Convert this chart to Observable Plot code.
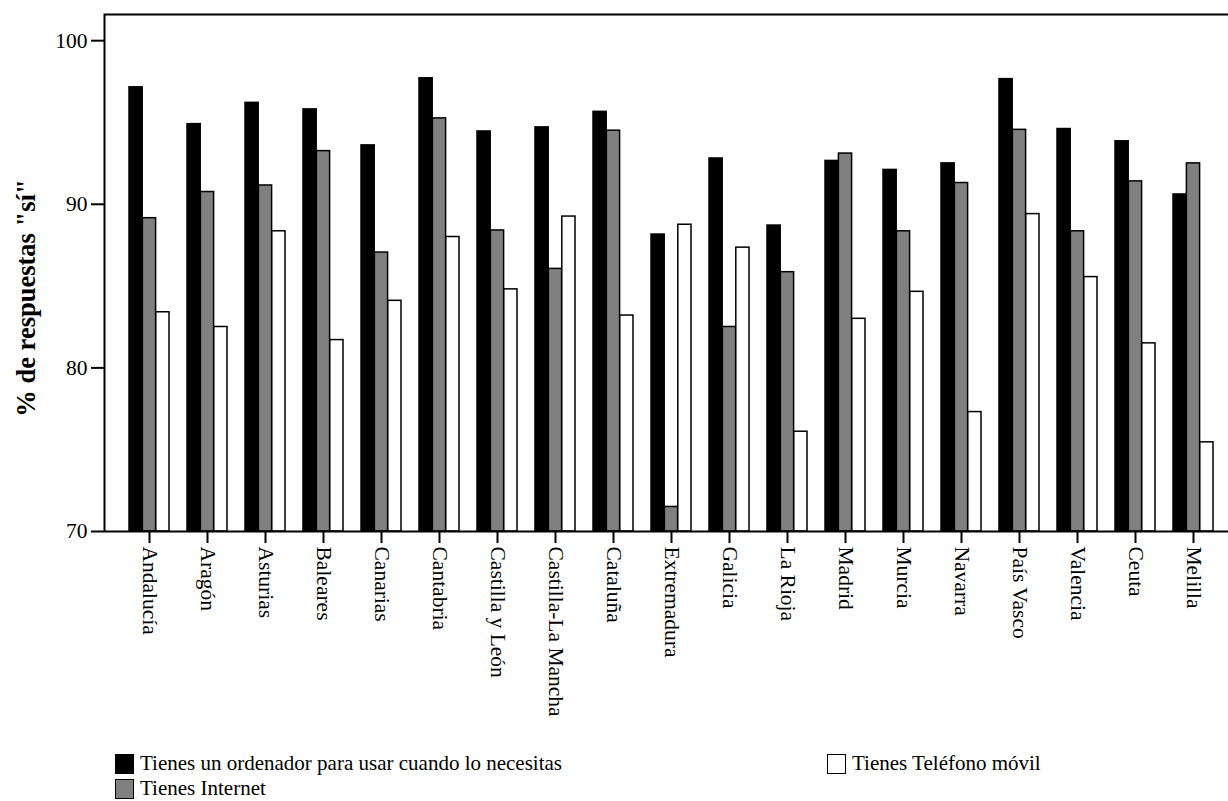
<!DOCTYPE html>
<html>
<head>
<meta charset="utf-8">
<script src="https://cdn.jsdelivr.net/npm/d3@7"></script>
<script src="https://cdn.jsdelivr.net/npm/@observablehq/plot@0.6"></script>
<style>
  html, body { margin: 0; padding: 0; background: #fff; overflow: hidden; }
  #chart svg { display: block; max-width: none !important; }
  #legend {
    display: grid;
    grid-template-rows: repeat(2, 25px);
    grid-auto-flow: column;
    grid-template-columns: 712px auto;
    padding-left: 115px;
    margin-top: 6px;
    font-family: 'Liberation Serif', 'Times New Roman', serif;
    font-size: 21px;
    line-height: 25px;
    color: #000;
  }
  .item { display: flex; align-items: center; white-space: nowrap; }
  .sw { width: 17px; height: 18px; border: 1.5px solid #000; margin-right: 6px; box-sizing: content-box; }
</style>
</head>
<body>
<div id="chart"></div>
<div id="legend"></div>
<script>
const regions = ["Andalucía","Aragón","Asturias","Baleares","Canarias","Cantabria","Castilla y León","Castilla-La Mancha","Cataluña","Extremadura","Galicia","La Rioja","Madrid","Murcia","Navarra","País Vasco","Valencia","Ceuta","Melilla"];
const seriesNames = ["Tienes un ordenador para usar cuando lo necesitas","Tienes Internet","Tienes Teléfono móvil"];
const seriesColors = ["#000000","#808080","#ffffff"];
const ordenador = [97.15, 94.9, 96.2, 95.8, 93.6, 97.7, 94.45, 94.7, 95.65, 88.15, 92.8, 88.7, 92.65, 92.1, 92.5, 97.65, 94.6, 93.85, 90.6];
const internet  = [89.15, 90.75, 91.15, 93.25, 87.05, 95.25, 88.4, 86.05, 94.5, 71.5, 82.5, 85.85, 93.1, 88.35, 91.3, 94.55, 88.35, 91.4, 92.5];
const movil     = [83.4, 82.5, 88.35, 81.7, 84.1, 88.0, 84.8, 89.25, 83.2, 88.75, 87.35, 76.1, 83.0, 84.65, 77.3, 89.4, 85.55, 81.5, 75.45];
const yTicks = [70, 80, 90, 100];
const yDomain = [70, 101.6];
const yLabel = "% de respuestas \"sí\"";

const seriesValues = [ordenador, internet, movil];
const barW = 13.4;

const marks = [];
seriesValues.forEach((vals, i) => {
  const rows = regions.map((r, j) => ({region: r, value: vals[j]}));
  marks.push(Plot.barY(rows, {
    x: "region",
    y1: yDomain[0],
    y2: "value",
    fill: seriesColors[i],
    stroke: "#000",
    strokeWidth: 1.5,
    insetLeft: 22.4,
    insetRight: 22.4,
    dx: (i - 1) * barW
  }));
});

const chart = Plot.plot({
  width: 1237,
  height: 745,
  marginLeft: 104,
  marginRight: 0,
  marginTop: 14,
  marginBottom: 214,
  style: {fontFamily: "'Liberation Serif', serif", fontSize: "21.5px", color: "#000", background: "#fff", maxWidth: "none"},
  x: {domain: regions, paddingInner: 0, paddingOuter: 0.233},
  y: {domain: yDomain},
  marks: [
    ...marks,
    Plot.frame({stroke: "#000", strokeWidth: 2}),
    Plot.axisY(yTicks, {tickSize: 13, tickPadding: 4, strokeWidth: 2, label: null, fontSize: 21.5}),
    Plot.axisX({tickSize: 12, tickPadding: 3, tickRotate: 90, strokeWidth: 2, label: null, fontSize: 21.5}),
    Plot.text([yLabel], {
      text: d => d,
      frameAnchor: "left",
      rotate: -90,
      dx: -70,
      dy: 25,
      textAnchor: "middle",
      lineAnchor: "bottom",
      fontWeight: "bold",
      fontSize: 26.5
    })
  ]
});
document.getElementById("chart").appendChild(chart);

const legend = document.getElementById("legend");
seriesNames.forEach((name, i) => {
  const it = document.createElement("div");
  it.className = "item";
  const sw = document.createElement("span");
  sw.className = "sw";
  sw.style.background = seriesColors[i];
  it.appendChild(sw);
  const tx = document.createElement("span");
  tx.textContent = name;
  it.appendChild(tx);
  legend.appendChild(it);
});
</script>
</body>
</html>
